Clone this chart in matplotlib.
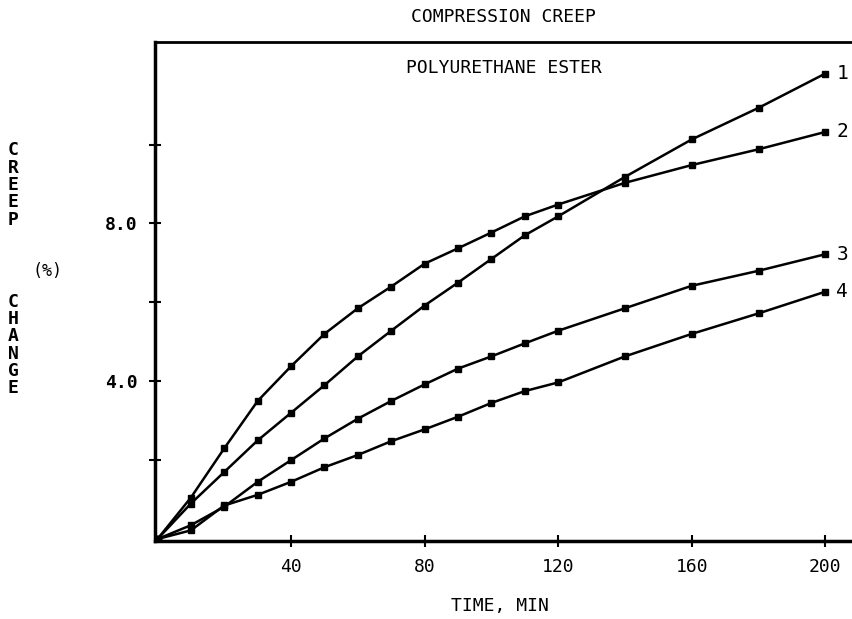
import matplotlib
matplotlib.use('Agg')
import matplotlib.pyplot as plt

# time (min) and creep change (%) per curve
tiempo = [0, 10, 20, 30, 40, 50, 60, 70, 80, 90, 100, 110, 120, 140, 160, 180, 200]
curva1 = [0, 0.9, 1.7, 2.5, 3.2, 3.9, 4.63, 5.28, 5.92, 6.5, 7.1, 7.7, 8.18, 9.18, 10.13, 10.93, 11.8]
curva2 = [0, 1.05, 2.3, 3.5, 4.38, 5.2, 5.85, 6.4, 6.98, 7.37, 7.77, 8.18, 8.48, 9.03, 9.48, 9.88, 10.32]
curva3 = [0, 0.35, 0.82, 1.45, 2.0, 2.55, 3.05, 3.5, 3.92, 4.32, 4.63, 4.96, 5.28, 5.85, 6.42, 6.8, 7.22]
curva4 = [0, 0.22, 0.85, 1.12, 1.45, 1.82, 2.13, 2.48, 2.78, 3.1, 3.45, 3.75, 3.97, 4.63, 5.2, 5.72, 6.27]
rotulos = ['1', '2', '3', '4']

fonte = 'DejaVu Sans Mono'

fig = plt.figure(figsize=(8.53, 6.19), dpi=100)
ax = fig.add_axes([155 / 853, 78 / 619, 697 / 853, 499 / 619])

for serie, rot in zip([curva1, curva2, curva3, curva4], rotulos):
    ax.plot(tiempo, serie, color='black', lw=1.8, marker='s', ms=4.5)
    ax.text(203.3, serie[-1], rot, fontsize=14, family=fonte, va='center', ha='left')

ax.set_xlim(-0.75, 208)
ax.set_ylim(-0.05, 12.6)

ax.set_xticks([40, 80, 120, 160, 200])
ax.set_xticklabels(['40', '80', '120', '160', '200'], fontsize=13, family=fonte)
ax.set_yticks([2, 4, 6, 8, 10])
ax.set_yticklabels(['', '4.0', '', '8.0', ''], fontsize=13, family=fonte, weight='bold')
ax.tick_params(axis='both', direction='inout', length=9, width=1.5, pad=8)

ax.spines['right'].set_visible(False)
ax.spines['left'].set_linewidth(2.5)
ax.spines['bottom'].set_linewidth(2.5)
ax.spines['top'].set_linewidth(2)

# titulos
fig.text(503 / 853, 1 - 17 / 619, 'COMPRESSION CREEP', fontsize=13, family=fonte,
         ha='center', va='center')
ax.text(0.5, 0.965, 'POLYURETHANE ESTER', transform=ax.transAxes, fontsize=13,
        family=fonte, ha='center', va='top')
fig.text(500 / 853, 1 - 606 / 619, 'TIME, MIN', fontsize=13, family=fonte,
         ha='center', va='center')

# rotulo vertical empilhado
fig.text(13 / 853, 1 - 185 / 619, '\n'.join('CREEP'), fontsize=13, family=fonte,
         weight='bold', ha='center', va='center', linespacing=0.95)
fig.text(13 / 853, 1 - 345 / 619, '\n'.join('CHANGE'), fontsize=13, family=fonte,
         weight='bold', ha='center', va='center', linespacing=0.95)
fig.text(48 / 853, 1 - 271 / 619, '(%)', fontsize=12, family=fonte, ha='center', va='center')

fig.savefig('out.png', dpi=100)
